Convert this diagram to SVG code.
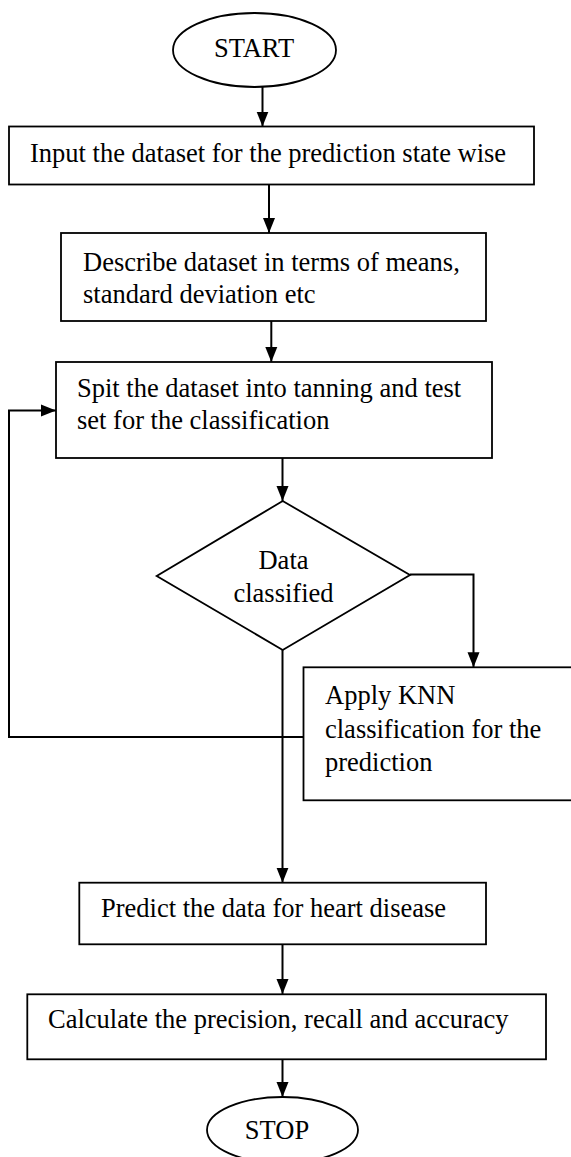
<svg xmlns="http://www.w3.org/2000/svg" width="571" height="1157" viewBox="0 0 571 1157">
<style>
.n{fill:#fff;stroke:#000;stroke-width:1.8}
.t{font-family:"Liberation Serif","Times New Roman",serif;font-size:26.5px;fill:#000}
.m{text-anchor:middle}
.c{fill:none;stroke:#000;stroke-width:2}
</style>
<defs>
<marker id="ah" markerUnits="userSpaceOnUse" markerWidth="15" markerHeight="14" viewBox="0 0 15 14" refX="15" refY="7" orient="auto"><path d="M0,1 L15,7 L0,13 z" fill="#000"/></marker>
</defs>
<rect width="571" height="1157" fill="#fff"/>
<g id="connectors">
<path class="c" d="M262.5,87 V126.5" marker-end="url(#ah)"/>
<path class="c" d="M269,184.5 V233" marker-end="url(#ah)"/>
<path class="c" d="M271.3,321 V362" marker-end="url(#ah)"/>
<path class="c" d="M282.5,458 V501" marker-end="url(#ah)"/>
<path class="c" d="M410,574.5 H473.5 V667.3" marker-end="url(#ah)"/>
<path class="c" d="M303.5,737 H9 V410.5 H56" marker-end="url(#ah)"/>
<path class="c" d="M282.5,650 V882.7" marker-end="url(#ah)"/>
<path class="c" d="M282.5,944.5 V994" marker-end="url(#ah)"/>
<path class="c" d="M282.5,1059.3 V1097" marker-end="url(#ah)"/>
</g>
<g id="start">
<ellipse class="n" cx="254.5" cy="50" rx="81.5" ry="37"/>
<text class="t m" x="254" y="57">START</text>
</g>
<g id="input">
<rect class="n" x="9" y="126.5" width="525" height="58"/>
<text class="t" x="30" y="161.7">Input the dataset for the prediction state wise</text>
</g>
<g id="describe">
<rect class="n" x="61" y="233" width="425" height="88"/>
<text class="t" x="83" y="271">Describe dataset in terms of means,</text>
<text class="t" x="83" y="303">standard deviation etc</text>
</g>
<g id="split">
<rect class="n" x="56" y="362" width="436" height="96"/>
<text class="t" x="77" y="397">Spit the dataset into tanning and test</text>
<text class="t" x="77" y="429">set for the classification</text>
</g>
<g id="decision">
<polygon class="n" points="282.7,501 410,575 282.7,650 156.7,576"/>
<text class="t m" x="283.5" y="569">Data</text>
<text class="t m" x="283.5" y="601.7">classified</text>
</g>
<g id="knn">
<rect class="n" x="303.5" y="667.3" width="280" height="133"/>
<text class="t" x="325" y="704">Apply KNN</text>
<text class="t" x="325" y="738">classification for the</text>
<text class="t" x="325" y="771">prediction</text>
</g>
<g id="predict">
<rect class="n" x="79.3" y="882.7" width="406.7" height="61.6"/>
<text class="t" x="101" y="917.3">Predict the data for heart disease</text>
</g>
<g id="calculate">
<rect class="n" x="27.3" y="994.3" width="518.7" height="65"/>
<text class="t" x="48" y="1028.3">Calculate the precision, recall and accuracy</text>
</g>
<g id="stop">
<ellipse class="n" cx="282.5" cy="1130" rx="75.5" ry="33"/>
<text class="t m" x="277" y="1139">STOP</text>
</g>
</svg>
